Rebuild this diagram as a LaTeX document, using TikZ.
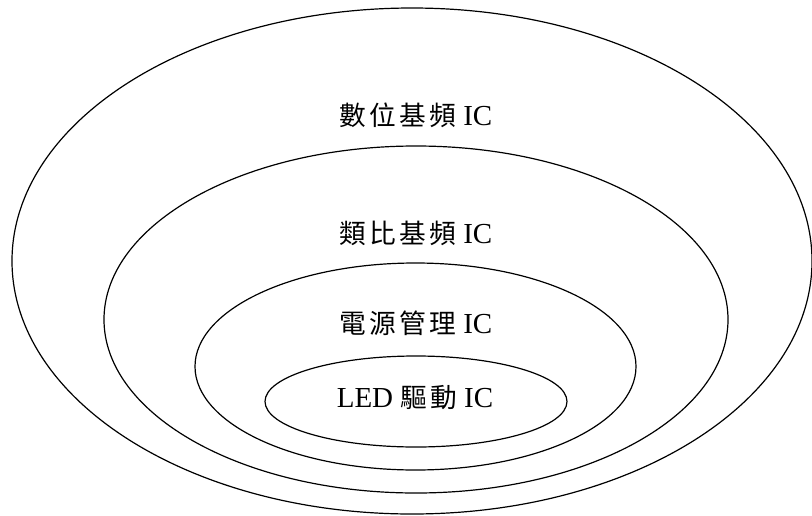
\documentclass[tikz,border=0pt]{standalone}
\usepackage{fontspec}
\setmainfont{Liberation Serif}
\newfontfamily\cjk[LetterSpace=12,Scale=0.92]{Noto Sans CJK TC}
\begin{document}
\begin{tikzpicture}[x=1pt,y=-1pt,
  ring/.style={draw=black,line width=1.2pt},
  lbl/.style={font=\fontsize{29}{34}\selectfont,inner sep=0pt}]
\useasboundingbox (0,0) rectangle (812,515);
\draw[ring] (412,261) ellipse [x radius=400, y radius=253];
\draw[ring] (416,319.5) ellipse [x radius=312, y radius=173.5];
\draw[ring] (415.5,366.5) ellipse [x radius=220.5, y radius=103.5];
\draw[ring] (416,401.5) ellipse [x radius=151, y radius=45.5];
\node[lbl] (t1) at (416,115) {{\cjk 數位基頻} IC};
\node[lbl] (t2) at (416,233) {{\cjk 類比基頻} IC};
\node[lbl] (t3) at (416,323) {{\cjk 電源管理} IC};
\node[lbl] (t4) at (415,398) {LED {\cjk 驅動} IC};
\end{tikzpicture}
\end{document}
